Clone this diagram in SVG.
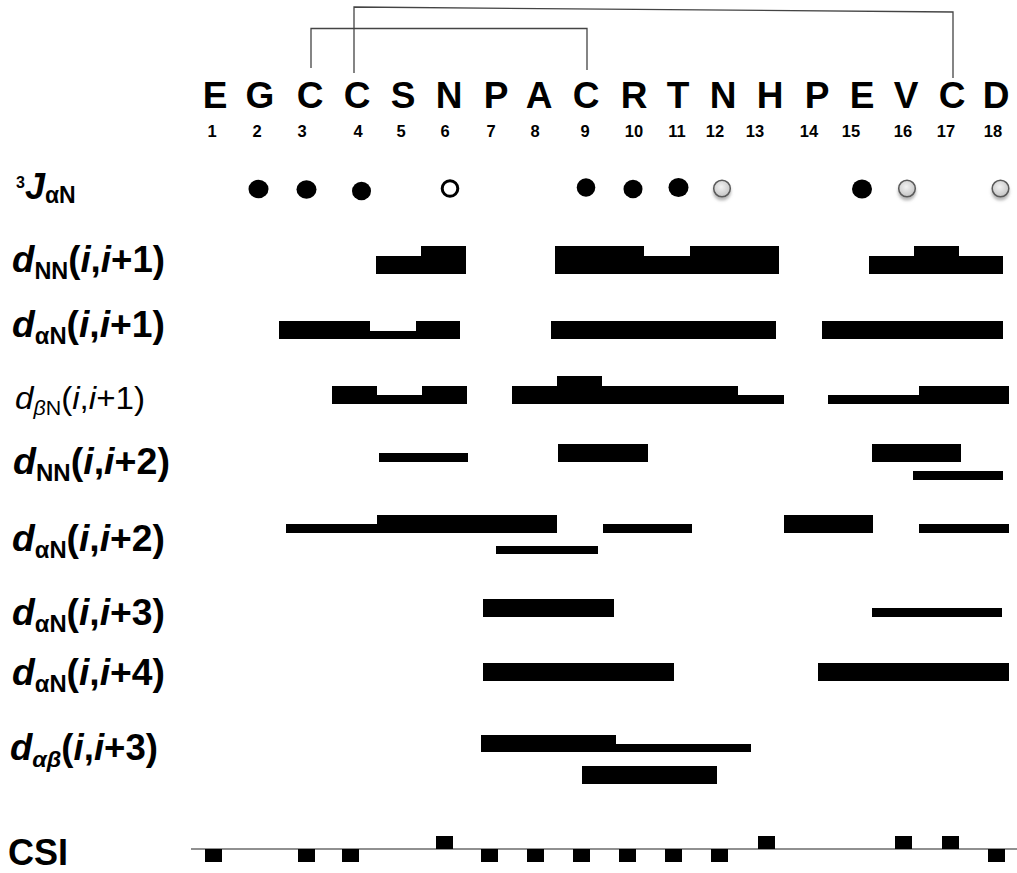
<svg xmlns="http://www.w3.org/2000/svg" width="1017" height="873" viewBox="0 0 1017 873">
  <defs>
    <style>
      .res{font-family:"Liberation Sans",Arial,sans-serif;font-weight:bold;font-size:37px;text-anchor:middle;fill:#000}
      .num{font-family:"Liberation Sans",Arial,sans-serif;font-weight:bold;font-size:16.5px;text-anchor:middle;fill:#000}
      .lbl{font-family:"Liberation Sans",Arial,sans-serif;font-weight:bold;font-size:36px;fill:#000}
      .lbl-r{font-family:"Liberation Sans",Arial,sans-serif;font-weight:normal;font-size:31px;fill:#000}
      .it{font-style:italic}
      .sub{font-size:23px}
      .bar{fill:#000}
      .bond{fill:none;stroke:#444;stroke-width:1.3}
      .axis{stroke:#222;stroke-width:1.2}
      .dot{fill:#000}
      .open{fill:#fff;stroke:#000;stroke-width:3}
      .grey{fill:url(#greyFill);stroke:#5a5a5a;stroke-width:1.5;filter:url(#soft)}
    </style>
    <radialGradient id="greyFill" cx="0.45" cy="0.4" r="0.6">
      <stop offset="0" stop-color="#f2f2f2"/>
      <stop offset="1" stop-color="#c4c4c4"/>
    </radialGradient>
    <filter id="soft" x="-50%" y="-50%" width="200%" height="220%">
      <feDropShadow dx="0" dy="3" stdDeviation="1.8" flood-color="#777" flood-opacity="0.55"/>
    </filter>
  </defs>

  <rect width="1017" height="873" fill="#fff"/>

  <!-- disulfide bonds: C3-C9 and C4-C17 -->
  <g id="connectors">
    <polyline class="bond" points="311,68 311,28.5 587,28.5 587,70"/>
    <polyline class="bond" points="354,73 354,7 953,12 953,78"/>
  </g>

  <!-- sequence -->
  <g id="sequence">
    <text class="res" x="215" y="108">E</text>
    <text class="res" x="260" y="108">G</text>
    <text class="res" x="310" y="108">C</text>
    <text class="res" x="357" y="108">C</text>
    <text class="res" x="403" y="108">S</text>
    <text class="res" x="449" y="108">N</text>
    <text class="res" x="496" y="108">P</text>
    <text class="res" x="539" y="108">A</text>
    <text class="res" x="586" y="108">C</text>
    <text class="res" x="634" y="108">R</text>
    <text class="res" x="678" y="108">T</text>
    <text class="res" x="723" y="108">N</text>
    <text class="res" x="770" y="108">H</text>
    <text class="res" x="817" y="108">P</text>
    <text class="res" x="862" y="108">E</text>
    <text class="res" x="906" y="108">V</text>
    <text class="res" x="952" y="108">C</text>
    <text class="res" x="996" y="108">D</text>
  </g>
  <g id="numbers">
    <text class="num" x="212" y="137">1</text>
    <text class="num" x="257" y="137">2</text>
    <text class="num" x="302" y="137">3</text>
    <text class="num" x="358" y="137">4</text>
    <text class="num" x="401" y="137">5</text>
    <text class="num" x="445" y="137">6</text>
    <text class="num" x="491" y="137">7</text>
    <text class="num" x="535" y="137">8</text>
    <text class="num" x="585" y="137">9</text>
    <text class="num" x="634" y="137">10</text>
    <text class="num" x="677" y="137">11</text>
    <text class="num" x="715" y="137">12</text>
    <text class="num" x="755" y="137">13</text>
    <text class="num" x="809" y="137">14</text>
    <text class="num" x="851" y="137">15</text>
    <text class="num" x="903" y="137">16</text>
    <text class="num" x="946" y="137">17</text>
    <text class="num" x="993" y="137">18</text>
  </g>

  <!-- 3J(alpha N) coupling constants -->
  <g id="row-jan">
    <text class="lbl" x="16" y="199" font-size="32"><tspan font-size="16" dy="-11">3</tspan><tspan class="it" dy="11">J</tspan><tspan class="sub" font-size="22" dy="4">αN</tspan></text>
    <ellipse class="dot" cx="258.5" cy="189" rx="10" ry="9.3"/>
    <ellipse class="dot" cx="306.5" cy="189.5" rx="10" ry="9.3"/>
    <ellipse class="dot" cx="361.5" cy="191" rx="9.5" ry="9.3"/>
    <circle class="open" cx="450" cy="188.5" r="7.8"/>
    <ellipse class="dot" cx="586" cy="187.5" rx="9.3" ry="9.3"/>
    <ellipse class="dot" cx="633" cy="189" rx="9.5" ry="9.3"/>
    <ellipse class="dot" cx="678.5" cy="187.5" rx="10" ry="9.5"/>
    <circle class="grey" cx="722" cy="188.5" r="8.3"/>
    <ellipse class="dot" cx="862" cy="189" rx="10" ry="9.5"/>
    <circle class="grey" cx="907" cy="188.5" r="8.3"/>
    <circle class="grey" cx="1000.5" cy="188.5" r="8.3"/>
  </g>

  <!-- dNN(i,i+1) -->
  <g id="row-dnn1">
    <text class="lbl" x="12" y="272" textLength="153" lengthAdjust="spacingAndGlyphs"><tspan class="it">d</tspan><tspan class="sub" dy="7">NN</tspan><tspan dy="-7">(</tspan><tspan class="it">i</tspan>,<tspan class="it">i</tspan>+1)</text>
    <rect class="bar" x="376" y="256" width="45" height="18"/>
    <rect class="bar" x="421" y="246" width="45" height="28"/>
    <rect class="bar" x="555" y="246" width="89" height="28"/>
    <rect class="bar" x="644" y="256" width="46" height="18"/>
    <rect class="bar" x="690" y="246" width="89" height="28"/>
    <rect class="bar" x="869" y="256" width="45" height="18"/>
    <rect class="bar" x="914" y="246" width="45" height="28"/>
    <rect class="bar" x="959" y="256" width="44" height="18"/>
  </g>

  <!-- dαN(i,i+1) -->
  <g id="row-dan1">
    <text class="lbl" x="12" y="337" textLength="153" lengthAdjust="spacingAndGlyphs"><tspan class="it">d</tspan><tspan class="sub" dy="7">αN</tspan><tspan dy="-7">(</tspan><tspan class="it">i</tspan>,<tspan class="it">i</tspan>+1)</text>
    <rect class="bar" x="279" y="321" width="91" height="18"/>
    <rect class="bar" x="370" y="331" width="46" height="8"/>
    <rect class="bar" x="416" y="321" width="44" height="18"/>
    <rect class="bar" x="551" y="321" width="225" height="18"/>
    <rect class="bar" x="822" y="321" width="181" height="18"/>
  </g>

  <!-- dβN(i,i+1) -->
  <g id="row-dbn1">
    <text class="lbl-r" x="15" y="409" textLength="130" lengthAdjust="spacingAndGlyphs"><tspan class="it">d</tspan><tspan class="it" font-size="20" dy="6">β</tspan><tspan font-size="20">N</tspan><tspan dy="-6">(</tspan><tspan class="it">i</tspan>,<tspan class="it">i</tspan>+1)</text>
    <rect class="bar" x="332" y="386" width="45" height="18"/>
    <rect class="bar" x="377" y="395" width="45" height="9"/>
    <rect class="bar" x="422" y="386" width="45" height="18"/>
    <rect class="bar" x="512" y="386" width="226" height="18"/>
    <rect class="bar" x="557" y="376" width="45" height="10"/>
    <rect class="bar" x="738" y="395" width="46" height="9"/>
    <rect class="bar" x="828" y="395" width="91" height="9"/>
    <rect class="bar" x="919" y="386" width="90" height="18"/>
  </g>

  <!-- dNN(i,i+2) -->
  <g id="row-dnn2">
    <text class="lbl" x="13" y="474" textLength="157" lengthAdjust="spacingAndGlyphs"><tspan class="it">d</tspan><tspan class="sub" dy="7">NN</tspan><tspan dy="-7">(</tspan><tspan class="it">i</tspan>,<tspan class="it">i</tspan>+2)</text>
    <rect class="bar" x="379" y="453" width="89" height="9"/>
    <rect class="bar" x="558" y="444" width="90" height="18"/>
    <rect class="bar" x="872" y="444" width="89" height="18"/>
    <rect class="bar" x="913" y="471" width="90" height="9"/>
  </g>

  <!-- dαN(i,i+2) -->
  <g id="row-dan2">
    <text class="lbl" x="12" y="551" textLength="153" lengthAdjust="spacingAndGlyphs"><tspan class="it">d</tspan><tspan class="sub" dy="7">αN</tspan><tspan dy="-7">(</tspan><tspan class="it">i</tspan>,<tspan class="it">i</tspan>+2)</text>
    <rect class="bar" x="286" y="524" width="91" height="9"/>
    <rect class="bar" x="377" y="515" width="180" height="18"/>
    <rect class="bar" x="603" y="524" width="89" height="9"/>
    <rect class="bar" x="496" y="546" width="102" height="8"/>
    <rect class="bar" x="784" y="515" width="89" height="18"/>
    <rect class="bar" x="919" y="524" width="90" height="9"/>
  </g>

  <!-- dαN(i,i+3) -->
  <g id="row-dan3">
    <text class="lbl" x="12" y="625" textLength="153" lengthAdjust="spacingAndGlyphs"><tspan class="it">d</tspan><tspan class="sub" dy="7">αN</tspan><tspan dy="-7">(</tspan><tspan class="it">i</tspan>,<tspan class="it">i</tspan>+3)</text>
    <rect class="bar" x="483" y="599" width="131" height="18"/>
    <rect class="bar" x="872" y="608" width="130" height="9"/>
  </g>

  <!-- dαN(i,i+4) -->
  <g id="row-dan4">
    <text class="lbl" x="12" y="685" textLength="153" lengthAdjust="spacingAndGlyphs"><tspan class="it">d</tspan><tspan class="sub" dy="7">αN</tspan><tspan dy="-7">(</tspan><tspan class="it">i</tspan>,<tspan class="it">i</tspan>+4)</text>
    <rect class="bar" x="483" y="663" width="191" height="18"/>
    <rect class="bar" x="818" y="663" width="191" height="18"/>
  </g>

  <!-- dαβ(i,i+3) -->
  <g id="row-dab3">
    <text class="lbl" x="10" y="760" font-size="32" textLength="148" lengthAdjust="spacingAndGlyphs"><tspan class="it">d</tspan><tspan class="sub it" font-size="21" dy="7">αβ</tspan><tspan dy="-7">(</tspan><tspan class="it">i</tspan>,<tspan class="it">i</tspan>+3)</text>
    <rect class="bar" x="481" y="735" width="135" height="17"/>
    <rect class="bar" x="616" y="744" width="135" height="8"/>
    <rect class="bar" x="582" y="766" width="135" height="18"/>
  </g>

  <!-- chemical shift index -->
  <g id="row-csi">
    <text class="lbl" x="8" y="865" font-size="38">CSI</text>
    <line class="axis" x1="191" y1="849" x2="1017" y2="849"/>
    <rect class="bar" x="205" y="849" width="17" height="13"/>
    <rect class="bar" x="298" y="849" width="17" height="13"/>
    <rect class="bar" x="342" y="849" width="17" height="13"/>
    <rect class="bar" x="436" y="836" width="17" height="13"/>
    <rect class="bar" x="481" y="849" width="17" height="13"/>
    <rect class="bar" x="527" y="849" width="17" height="13"/>
    <rect class="bar" x="573" y="849" width="17" height="13"/>
    <rect class="bar" x="619" y="849" width="17" height="13"/>
    <rect class="bar" x="665" y="849" width="17" height="13"/>
    <rect class="bar" x="711" y="849" width="17" height="13"/>
    <rect class="bar" x="758" y="836" width="17" height="13"/>
    <rect class="bar" x="895" y="836" width="17" height="13"/>
    <rect class="bar" x="942" y="836" width="17" height="13"/>
    <rect class="bar" x="988" y="849" width="17" height="13"/>
  </g>
</svg>
